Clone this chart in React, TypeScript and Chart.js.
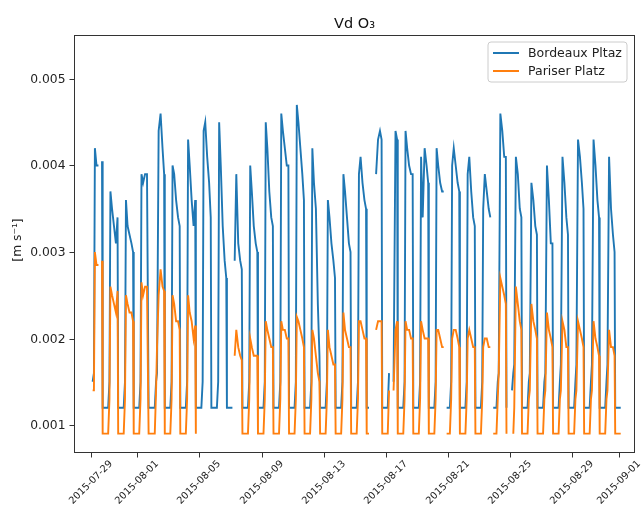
import React, { useEffect, useRef } from "react";
import { Chart, registerables } from "chart.js";

Chart.register(...registerables);

// ---- data -------------------------------------------------------------
// day 0 = 2015-07-29; each row = one day, values at SAMPLE_HOURS (UTC hour of day)
const SAMPLE_HOURS = [3, 5, 6.5, 9, 12, 15, 17.5, 18.5, 22];

const SERIES_NAMES = ["Bordeaux Pltaz", "Pariser Platz"];

const bordeauxPltaz: (number | null)[][] = [
  [0.0015, 0.0016, 0.0042, 0.0040, 0.0040, null, 0.00405, 0.0012, 0.0012], // 07-29
  [0.0012, 0.0015, 0.0037, 0.0035, 0.0033, 0.0031, 0.0034, 0.0012, 0.0012], // 07-30
  [0.0012, 0.0015, 0.0036, 0.0033, 0.0032, 0.0031, 0.0030, 0.0012, 0.0012], // 07-31
  [0.0012, 0.0015, 0.0039, 0.0038, 0.0039, 0.0039, 0.0012, 0.0012, 0.0012], // 08-01
  [0.0012, 0.0015, 0.0016, 0.0044, 0.0046, 0.0042, 0.0039, 0.0012, 0.0012], // 08-02
  [0.0012, 0.0015, 0.0040, 0.0039, 0.0036, 0.0034, 0.0033, 0.0012, 0.0012], // 08-03
  [0.0012, 0.0015, 0.0043, 0.0040, 0.0036, 0.0033, 0.0036, 0.0012, 0.0012], // 08-04
  [0.0012, 0.0015, 0.0044, 0.0045, 0.0041, 0.0038, 0.0034, 0.0012, 0.0012], // 08-05
  [0.0012, 0.0015, 0.0045, 0.0040, 0.0033, 0.0029, 0.0027, 0.0012, 0.0012], // 08-06
  [0.0012, null, 0.0029, 0.0039, 0.0031, 0.0029, 0.0028, 0.0012, 0.0012], // 08-07
  [0.0012, 0.0015, 0.0040, 0.0037, 0.0033, 0.0031, 0.0030, 0.0012, 0.0012], // 08-08
  [0.0012, 0.0015, 0.0045, 0.0042, 0.0037, 0.0034, 0.0033, 0.0012, 0.0012], // 08-09
  [0.0012, 0.0015, 0.0046, 0.0044, 0.0042, 0.0040, 0.0040, 0.0012, 0.0012], // 08-10
  [0.0012, 0.0015, 0.0047, 0.0045, 0.0042, 0.0039, 0.0036, 0.0012, 0.0012], // 08-11
  [0.0012, 0.0015, 0.0042, 0.0038, 0.0035, 0.0024, 0.0018, 0.0012, 0.0012], // 08-12
  [0.0012, 0.0015, 0.0036, 0.0034, 0.0031, 0.0029, 0.0027, 0.0012, 0.0012], // 08-13
  [0.0012, 0.0015, 0.0039, 0.0037, 0.0034, 0.0031, 0.0030, 0.0012, 0.0012], // 08-14
  [0.0012, 0.0015, 0.0039, 0.0041, 0.0038, 0.0036, 0.0035, 0.0012, 0.0012], // 08-15
  [null, null, null, 0.0039, 0.0043, 0.0044, 0.0043, 0.0012, 0.0012], // 08-16
  [0.0012, 0.0016, null, null, 0.0015, 0.0044, 0.0043, 0.0012, 0.0012], // 08-17
  [0.0012, 0.0015, 0.0044, 0.0042, 0.0040, 0.0039, 0.0039, 0.0012, 0.0012], // 08-18
  [0.0012, 0.0015, 0.0041, 0.0034, 0.0042, 0.0040, 0.0038, 0.0012, 0.0012], // 08-19
  [0.0012, 0.0015, 0.0042, 0.0040, 0.0038, 0.0037, 0.0037, null, 0.0012], // 08-20
  [0.0012, 0.0015, 0.0040, 0.0042, 0.0040, 0.0038, 0.0037, 0.0012, 0.0012], // 08-21
  [0.0012, 0.0015, 0.0039, 0.0041, 0.0037, 0.0034, 0.0033, 0.0012, 0.0012], // 08-22
  [0.0012, 0.0015, 0.0035, 0.0039, 0.0037, 0.0035, 0.0034, null, 0.0012], // 08-23
  [0.0012, 0.0015, 0.0016, 0.0046, 0.0044, 0.0041, 0.0041, 0.0012, null], // 08-24
  [0.0014, 0.0016, 0.0017, 0.0041, 0.0039, 0.0035, 0.0034, 0.0012, 0.0012], // 08-25
  [0.0012, 0.0015, 0.0016, 0.0038, 0.0036, 0.0033, 0.0032, 0.0012, 0.0012], // 08-26
  [0.0012, 0.0015, 0.0016, 0.0040, 0.0036, 0.0031, 0.0031, 0.0012, 0.0012], // 08-27
  [0.0012, 0.0015, 0.0017, 0.0041, 0.0038, 0.0034, 0.0032, 0.0012, 0.0012], // 08-28
  [0.0012, 0.0015, 0.0017, 0.0043, 0.0041, 0.0038, 0.0035, 0.0012, 0.0012], // 08-29
  [0.0012, 0.0015, 0.0017, 0.0043, 0.0040, 0.0036, 0.0034, 0.0012, 0.0012], // 08-30
  [0.0012, 0.0015, 0.0017, 0.0041, 0.0035, 0.0032, 0.0030, 0.0012, 0.0012], // 08-31
  [0.0012, null, null, null, null, null, null, null, null], // 09-01
];

const pariserPlatz: (number | null)[][] = [
  [0.0014, 0.0014, 0.0030, 0.00285, 0.00285, null, 0.0029, 0.0009, 0.0009], // 07-29
  [0.0009, 0.0013, 0.0026, 0.0025, 0.0024, 0.0023, 0.00255, 0.0009, 0.0009], // 07-30
  [0.0009, 0.0013, 0.0025, 0.0024, 0.0023, 0.0023, 0.0022, 0.0009, 0.0009], // 07-31
  [0.0009, 0.0013, 0.00265, 0.0025, 0.0026, 0.0026, 0.0009, 0.0009, 0.0009], // 08-01
  [0.0009, 0.0014, 0.0019, 0.0025, 0.0028, 0.0026, 0.00255, 0.0009, 0.0009], // 08-02
  [0.0009, 0.0013, 0.0025, 0.0024, 0.0022, 0.0022, 0.0021, 0.0009, 0.0009], // 08-03
  [0.0009, 0.0013, 0.0025, 0.0023, 0.0022, 0.0020, 0.00215, 0.0009, null], // 08-04
  [null, null, null, null, null, null, null, null, null], // 08-05
  [null, null, null, null, null, null, null, null, null], // 08-06
  [0.0009, null, 0.0018, 0.0021, 0.0019, 0.0018, 0.00175, 0.0009, 0.0009], // 08-07
  [0.0009, 0.0013, 0.0020, 0.0019, 0.0018, 0.0018, 0.0018, 0.0009, 0.0009], // 08-08
  [0.0009, 0.0013, 0.0022, 0.0021, 0.0020, 0.0019, 0.0019, 0.0009, 0.0009], // 08-09
  [0.0009, 0.0013, 0.0022, 0.0021, 0.0021, 0.0020, 0.0020, 0.0009, 0.0009], // 08-10
  [0.0009, 0.0013, 0.00225, 0.0022, 0.0021, 0.0020, 0.0019, 0.0009, 0.0009], // 08-11
  [0.0009, 0.0013, 0.0021, 0.0020, 0.0018, 0.0016, 0.0015, 0.0009, 0.0009], // 08-12
  [0.0009, 0.0013, 0.0021, 0.0019, 0.0018, 0.0017, 0.0017, 0.0009, 0.0009], // 08-13
  [0.0009, 0.0013, 0.0023, 0.0021, 0.0020, 0.0019, 0.0019, 0.0009, 0.0009], // 08-14
  [0.0009, 0.0013, 0.0022, 0.0022, 0.0021, 0.0020, 0.0020, 0.0009, 0.0009], // 08-15
  [null, null, null, 0.0021, 0.0022, 0.0022, 0.0022, 0.0009, 0.0009], // 08-16
  [0.0009, 0.0014, null, null, 0.0014, 0.0021, 0.0022, 0.0009, 0.0009], // 08-17
  [0.0009, 0.0013, 0.0022, 0.0021, 0.0021, 0.0020, 0.0020, 0.0009, 0.0009], // 08-18
  [0.0009, 0.0013, 0.0022, 0.0021, 0.0020, 0.0020, 0.0020, 0.0009, 0.0009], // 08-19
  [0.0009, 0.0013, 0.0021, 0.0021, 0.0020, 0.0019, 0.0019, null, 0.0009], // 08-20
  [0.0009, 0.0013, 0.0020, 0.0021, 0.0021, 0.0020, 0.0019, 0.0009, 0.0009], // 08-21
  [0.0009, 0.0013, 0.0020, 0.0021, 0.0020, 0.0019, 0.0019, 0.0009, 0.0009], // 08-22
  [0.0009, 0.0013, 0.0019, 0.0020, 0.0020, 0.0019, 0.0019, null, 0.0009], // 08-23
  [0.0009, 0.0013, 0.0016, 0.0027, 0.0026, 0.0025, 0.0024, 0.0009, null], // 08-24
  [null, 0.0009, 0.0012, 0.0026, 0.0024, 0.0022, 0.0021, 0.0009, 0.0009], // 08-25
  [0.0009, 0.0013, 0.0014, 0.0024, 0.0022, 0.0021, 0.0020, 0.0009, 0.0009], // 08-26
  [0.0009, 0.0013, 0.0014, 0.0023, 0.0021, 0.0020, 0.0019, 0.0009, 0.0009], // 08-27
  [0.0009, 0.0013, 0.0014, 0.0022, 0.0021, 0.0019, 0.0019, 0.0009, 0.0009], // 08-28
  [0.0009, 0.0013, 0.0014, 0.0022, 0.0021, 0.0020, 0.0019, 0.0009, 0.0009], // 08-29
  [0.0009, 0.0013, 0.0014, 0.0022, 0.0020, 0.0019, 0.0018, 0.0009, 0.0009], // 08-30
  [0.0009, 0.0013, 0.0014, 0.0021, 0.0019, 0.0019, 0.0018, 0.0009, 0.0009], // 08-31
  [0.0009, null, null, null, null, null, null, null, null], // 09-01
];

const X_TICK_DAYS = [0, 3, 7, 11, 15, 19, 23, 27, 31, 34];
const X_TICK_LABELS = [
  "2015-07-29", "2015-08-01", "2015-08-05", "2015-08-09", "2015-08-13",
  "2015-08-17", "2015-08-21", "2015-08-25", "2015-08-29", "2015-09-01",
];
const Y_TICKS = [0.001, 0.002, 0.003, 0.004, 0.005];
const Y_TICK_LABELS = ["0.001", "0.002", "0.003", "0.004", "0.005"];
const TITLE = "Vd O\u2083";
const Y_LABEL = "[m s\u207B\u00B9]";

const COLORS = ["#1f77b4", "#ff7f0e"];
const FONT = '"DejaVu Sans", sans-serif';

function toPoints(rows: (number | null)[][]) {
  const pts: { x: number; y: number | null }[] = [];
  rows.forEach((row, d) =>
    row.forEach((v, j) => pts.push({ x: d + SAMPLE_HOURS[j] / 24, y: v }))
  );
  return pts;
}

const decorations = {
  id: "mplDecorations",
  afterDraw(chart: any) {
    const { ctx, chartArea: a, scales } = chart;
    const xs = scales.x;
    const ys = scales.y;
    ctx.save();
    const L = Math.round(a.left) - 0.5;
    const R = Math.round(a.right) + 0.5;
    const T = Math.round(a.top) - 0.5;
    const B = Math.round(a.bottom) + 0.5;

    // frame
    ctx.strokeStyle = "#333";
    ctx.lineWidth = 1;
    ctx.strokeRect(L, T, R - L, B - T);

    // y ticks
    ctx.fillStyle = "#222";
    ctx.font = `12.3px ${FONT}`;
    ctx.textAlign = "right";
    ctx.textBaseline = "middle";
    Y_TICKS.forEach((v, i) => {
      const py = Math.round(ys.getPixelForValue(v)) + 0.5;
      ctx.beginPath();
      ctx.moveTo(L - 5, py);
      ctx.lineTo(L, py);
      ctx.stroke();
      ctx.fillText(Y_TICK_LABELS[i], L - 9, py);
    });

    // x ticks
    ctx.font = `9.8px ${FONT}`;
    X_TICK_DAYS.forEach((d, i) => {
      const px = Math.round(xs.getPixelForValue(d)) + 0.5;
      ctx.beginPath();
      ctx.moveTo(px, B);
      ctx.lineTo(px, B + 5);
      ctx.stroke();
      ctx.save();
      ctx.translate(px - 0.5, B + 30);
      ctx.rotate(-Math.PI / 4);
      ctx.textAlign = "center";
      ctx.textBaseline = "middle";
      ctx.fillText(X_TICK_LABELS[i], 0, 0);
      ctx.restore();
    });

    // title
    ctx.font = `14.5px ${FONT}`;
    ctx.textAlign = "center";
    ctx.textBaseline = "alphabetic";
    ctx.fillStyle = "#111";
    ctx.fillText(TITLE, (a.left + a.right) / 2, a.top - 8);

    // y label
    ctx.save();
    ctx.translate(18, (a.top + a.bottom) / 2 - 4);
    ctx.rotate(-Math.PI / 2);
    ctx.font = `12.3px ${FONT}`;
    ctx.textAlign = "center";
    ctx.textBaseline = "middle";
    ctx.fillStyle = "#222";
    ctx.fillText(Y_LABEL, 0, 0);
    ctx.restore();

    // legend
    const lx = a.right - 146;
    const ly = a.top + 6;
    const lw = 139;
    const lh = 40;
    ctx.beginPath();
    const r = 3;
    ctx.moveTo(lx + r, ly);
    ctx.lineTo(lx + lw - r, ly);
    ctx.quadraticCurveTo(lx + lw, ly, lx + lw, ly + r);
    ctx.lineTo(lx + lw, ly + lh - r);
    ctx.quadraticCurveTo(lx + lw, ly + lh, lx + lw - r, ly + lh);
    ctx.lineTo(lx + r, ly + lh);
    ctx.quadraticCurveTo(lx, ly + lh, lx, ly + lh - r);
    ctx.lineTo(lx, ly + r);
    ctx.quadraticCurveTo(lx, ly, lx + r, ly);
    ctx.closePath();
    ctx.fillStyle = "rgba(255,255,255,0.85)";
    ctx.fill();
    ctx.strokeStyle = "#cccccc";
    ctx.lineWidth = 1;
    ctx.stroke();

    ctx.font = `12.5px ${FONT}`;
    ctx.textAlign = "left";
    ctx.textBaseline = "middle";
    SERIES_NAMES.forEach((name, i) => {
      const yy = ly + 11 + i * 18;
      ctx.strokeStyle = COLORS[i];
      ctx.lineWidth = 2;
      ctx.beginPath();
      ctx.moveTo(lx + 5, yy);
      ctx.lineTo(lx + 31, yy);
      ctx.stroke();
      ctx.fillStyle = "#222";
      ctx.fillText(name, lx + 40, yy + 0.5);
    });
    ctx.restore();
  },
};

export default function App() {
  const canvasRef = useRef<HTMLCanvasElement | null>(null);

  useEffect(() => {
    if (!canvasRef.current) return;
    const chart = new Chart(canvasRef.current, {
      type: "line",
      data: {
        datasets: [
          {
            label: SERIES_NAMES[0],
            data: toPoints(bordeauxPltaz) as any,
            borderColor: COLORS[0],
            borderWidth: 1.9,
            pointRadius: 0,
            tension: 0,
            spanGaps: false,
            order: 1,
          },
          {
            label: SERIES_NAMES[1],
            data: toPoints(pariserPlatz) as any,
            borderColor: COLORS[1],
            borderWidth: 1.9,
            pointRadius: 0,
            tension: 0,
            spanGaps: false,
            order: 0,
          },
        ],
      },
      options: {
        animation: false,
        responsive: false,
        devicePixelRatio: 1,
        layout: { padding: { left: 75, top: 36, right: 7, bottom: 55 } },
        plugins: {
          legend: { display: false },
          title: { display: false },
          tooltip: { enabled: false },
        },
        events: [],
        scales: {
          x: { type: "linear", display: false, min: -1.01, max: 34.98 },
          y: { type: "linear", display: false, min: 0.000688, max: 0.005497 },
        },
      },
      plugins: [decorations],
    });
    return () => chart.destroy();
  }, []);

  return (
    <div style={{ position: "absolute", left: 0, top: 0, width: 641, height: 507, background: "#fff" }}>
      <canvas ref={canvasRef} width={641} height={507} style={{ width: 641, height: 507 }} />
    </div>
  );
}
